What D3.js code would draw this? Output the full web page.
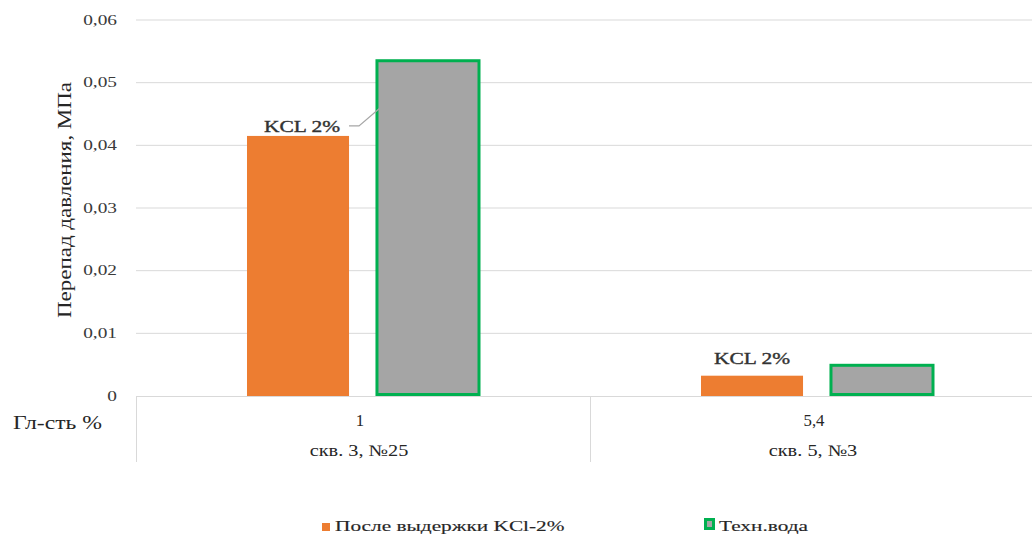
<!DOCTYPE html>
<html>
<head>
<meta charset="utf-8">
<script src="https://cdn.jsdelivr.net/npm/d3@7"></script>
</head>
<body style="margin:0;background:#fff">
<svg id="chart" width="1032" height="535" style="display:block"></svg>
<script>
// Pressure drop per well, two treatments
const wells = ["скв. 3,  №25", "скв. 5, №3"];
const depthLabels = ["1", "5,4"];
const seriesNames = ["После выдержки KCl-2%", "Техн.вода"];
const afterKCl = [0.0415, 0.00324];
const techWater = [0.0535, 0.0049];
const yTicks = [0, 0.01, 0.02, 0.03, 0.04, 0.05, 0.06];
const barLabels = ["KCL 2%", "KCL 2%"];

const SERIF = "'Liberation Serif'";
const TEXT = "#262626";
const svg = d3.select("#chart");
const margin = { left: 136, right: 1044, top: 20, bottom: 396 };

const x0 = d3.scaleBand().domain(wells).range([margin.left, margin.right]).paddingInner(0).paddingOuter(0);
const x1 = d3.scaleBand().domain([0, 1]).range([0, x0.bandwidth()]).paddingInner(0.215).paddingOuter(0.854);
const y = d3.scaleLinear().domain([0, 0.06]).range([margin.bottom, margin.top]);

const fmt = v => v === 0 ? "0" : d3.format(".2f")(v).replace(".", ",");

// widen glyphs horizontally by a factor, or to a fixed length
function stretch(sel, k) {
  sel.each(function () {
    const len = this.getComputedTextLength();
    d3.select(this).attr("textLength", len * k).attr("lengthAdjust", "spacingAndGlyphs");
  });
}
function fitTo(sel, w) {
  sel.attr("textLength", w).attr("lengthAdjust", "spacingAndGlyphs");
}

// gridlines
svg.append("g")
  .selectAll("line").data(yTicks.filter(d => d > 0)).join("line")
  .attr("x1", margin.left).attr("x2", 1032)
  .attr("y1", d => y(d)).attr("y2", d => y(d))
  .attr("stroke", "#d9d9d9").attr("stroke-width", 1);

// y tick labels, right-aligned against the plot
const ticks = svg.append("g").selectAll("text").data(yTicks).join("text")
  .attr("x", margin.left - 19).attr("y", d => y(d)).attr("dy", "0.33em")
  .attr("text-anchor", "end").attr("font-size", 14).attr("font-family", SERIF)
  .attr("fill", "#3a3a3a")
  .text(fmt);
stretch(ticks, 1.38);

// y title
const title = svg.append("text")
  .attr("transform", `translate(71,200) rotate(-90)`)
  .attr("text-anchor", "middle").attr("font-size", 18).attr("font-family", SERIF).attr("fill", TEXT)
  .text("Перепад давления, МПа");
fitTo(title, 236);

// bars
const groups = svg.append("g").selectAll("g").data(wells).join("g")
  .attr("transform", d => `translate(${x0(d)},0)`);

groups.append("rect")
  .attr("x", x1(0)).attr("width", x1.bandwidth())
  .attr("y", (d, i) => y(afterKCl[i]))
  .attr("height", (d, i) => y(0) - y(afterKCl[i]))
  .attr("fill", "#ED7D31");

groups.append("rect")
  .attr("x", x1(1)).attr("width", x1.bandwidth())
  .attr("y", (d, i) => y(techWater[i]))
  .attr("height", (d, i) => y(0) - y(techWater[i]) - 1.5)
  .attr("fill", "#A5A5A5").attr("stroke", "#00B050").attr("stroke-width", 3);

// category axis baseline and separators
svg.append("line").attr("x1", margin.left).attr("x2", 1032)
  .attr("y1", y(0) + 0.5).attr("y2", y(0) + 0.5).attr("stroke", "#d9d9d9");
[margin.left, x0(wells[1])].forEach(xv => {
  svg.append("line").attr("x1", xv + 0.5).attr("x2", xv + 0.5)
    .attr("y1", y(0)).attr("y2", 462).attr("stroke", "#d9d9d9");
});

// category labels (two rows)
const row1 = groups.append("text")
  .attr("x", x0.bandwidth() / 2 - 3).attr("y", 426)
  .attr("text-anchor", "middle").attr("font-size", 16).attr("font-family", SERIF).attr("fill", TEXT)
  .text((d, i) => depthLabels[i]);
stretch(row1, 1.05);
const row2 = groups.append("text")
  .attr("x", x0.bandwidth() / 2 - 4).attr("y", 456)
  .attr("text-anchor", "middle").attr("font-size", 16).attr("font-family", SERIF).attr("fill", TEXT)
  .text(d => d);
stretch(row2, 1.27);
const rowHead = svg.append("text").attr("x", 13).attr("y", 429)
  .attr("font-size", 19).attr("font-family", SERIF).attr("fill", TEXT).text("Гл-сть %");
fitTo(rowHead, 89);

// data labels
const dl = groups.append("text")
  .attr("x", x1(0) + x1.bandwidth() / 2)
  .attr("y", (d, i) => i === 0 ? y(afterKCl[i]) - 4 : y(afterKCl[i]) - 12)
  .attr("dx", (d, i) => i === 0 ? 4 : 0)
  .attr("text-anchor", "middle").attr("font-size", 16)
  .attr("font-family", SERIF).attr("fill", "#333").attr("stroke", "#333").attr("stroke-width", 0.35)
  .text((d, i) => barLabels[i]);
fitTo(dl, 76);

// leader line for the first label
const g0 = x0(wells[0]);
svg.append("polyline")
  .attr("points", [
    [g0 + x1(0) + x1.bandwidth() + 0, y(afterKCl[0]) - 10],
    [g0 + x1(0) + x1.bandwidth() + 10, y(afterKCl[0]) - 10],
    [g0 + x1(1) + 3, y(afterKCl[0]) - 28]
  ].map(p => p.join(",")).join(" "))
  .attr("fill", "none").attr("stroke", "#a6a6a6").attr("stroke-width", 1.2);

// legend
const legend = svg.append("g");
legend.append("rect").attr("x", 322).attr("y", 523).attr("width", 8).attr("height", 8).attr("fill", "#ED7D31");
legend.append("rect").attr("x", 705.5).attr("y", 519.5).attr("width", 8).attr("height", 9)
  .attr("fill", "#A5A5A5").attr("stroke", "#00B050").attr("stroke-width", 3);
const lt = legend.selectAll("text").data(seriesNames).join("text")
  .attr("x", (d, i) => i === 0 ? 335 : 719).attr("y", 531)
  .attr("font-size", 15).attr("font-family", SERIF).attr("fill", TEXT)
  .attr("stroke", TEXT).attr("stroke-width", 0.15)
  .text(d => d);
stretch(lt, 1.42);
</script>
</body>
</html>
